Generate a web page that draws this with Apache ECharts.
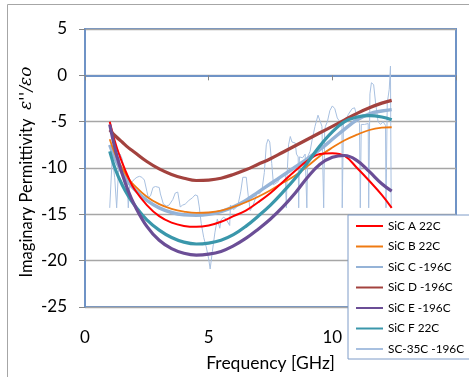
<!DOCTYPE html>
<html><head><meta charset="utf-8">
<script src="https://cdn.jsdelivr.net/npm/echarts@6/dist/echarts.min.js"></script>
<style>html,body{margin:0;padding:0;background:#fff}#c{width:469px;height:377px}</style>
</head><body><div id="c"></div>
<script>
const freq = [1.0,1.25,1.5,1.75,2.0,2.5,3.0,3.5,4.0,4.5,5.0,5.5,6.0,6.5,7.0,7.5,8.0,8.5,9.0,9.5,10.0,10.5,11.0,11.5,12.0,12.4];
const sicA = [-5.0,-7.5,-9.4,-11.0,-12.3,-14.0,-15.2,-15.9,-16.25,-16.35,-16.2,-15.8,-15.2,-14.6,-13.7,-12.7,-11.5,-10.3,-9.2,-8.5,-8.4,-8.7,-10.0,-11.4,-12.9,-14.3];
const sicB = [-6.9,-8.7,-10.0,-11.1,-11.9,-13.1,-13.9,-14.4,-14.7,-14.85,-14.8,-14.6,-14.2,-13.7,-13.1,-12.4,-11.6,-10.8,-9.8,-8.7,-7.8,-7.0,-6.4,-5.9,-5.65,-5.6];
const sicC = [-7.5,-9.2,-10.5,-11.5,-12.3,-13.5,-14.3,-14.8,-15.05,-15.1,-15.0,-14.7,-14.2,-13.5,-12.6,-11.7,-10.8,-9.9,-9.0,-8.0,-6.9,-5.8,-4.8,-4.15,-3.85,-3.7];
const sicD = [-5.9,-6.6,-7.2,-7.8,-8.3,-9.3,-10.1,-10.7,-11.1,-11.35,-11.3,-11.1,-10.7,-10.2,-9.6,-9.0,-8.3,-7.6,-6.9,-6.2,-5.5,-4.8,-4.1,-3.5,-3.0,-2.7];
const sicE = [-5.3,-8.3,-10.6,-12.5,-14.0,-16.3,-17.8,-18.7,-19.2,-19.4,-19.3,-19.0,-18.4,-17.6,-16.6,-15.5,-14.2,-12.7,-11.0,-9.6,-8.85,-8.65,-9.2,-10.4,-11.7,-12.5];
const sicF = [-8.2,-10.3,-11.8,-13.0,-14.0,-15.6,-16.7,-17.5,-18.0,-18.2,-18.1,-17.8,-17.2,-16.3,-15.2,-14.0,-12.6,-11.1,-9.4,-7.6,-6.1,-5.0,-4.5,-4.35,-4.5,-4.8];
const sc35Freq = [1.0,1.05,1.1,1.2,1.28,1.35,1.42,1.5,1.6,1.7,1.75,1.8,1.9,2.0,2.1,2.2,2.3,2.4,2.5,2.56,2.65,2.75,2.85,3.0,3.05,3.17,3.3,3.4,3.55,3.65,3.75,3.85,3.95,4.05,4.2,4.35,4.45,4.55,4.62,4.7,4.8,4.9,5.0,5.06,5.15,5.25,5.35,5.45,5.5,5.6,5.7,5.85,5.88,6.0,6.1,6.2,6.3,6.38,6.45,6.52,6.6,6.68,6.8,6.9,6.95,7.05,7.15,7.25,7.33,7.4,7.47,7.55,7.62,7.7,7.8,7.9,8.0,8.1,8.14,8.17,8.23,8.3,8.37,8.5,8.55,8.62,8.64,8.67,8.8,8.9,8.97,9.0,9.1,9.18,9.3,9.42,9.5,9.58,9.65,9.69,9.72,9.8,9.9,10.0,10.1,10.2,10.3,10.39,10.4,10.45,10.55,10.65,10.8,10.9,11.0,11.1,11.13,11.17,11.3,11.45,11.47,11.52,11.58,11.67,11.75,11.85,11.95,12.05,12.15,12.17,12.22,12.3,12.35,12.38];
const sc35 = [-14.3,-14.3,-8.9,-11.0,-14.3,-10.5,-8.5,-9.0,-10.5,-11.0,-14.3,-12.0,-11.5,-11.2,-11.0,-10.9,-11.0,-11.3,-12.5,-13.2,-13.0,-12.1,-12.0,-12.1,-12.8,-13.9,-14.1,-14.0,-13.4,-12.7,-12.6,-14.2,-14.0,-13.9,-13.5,-13.2,-12.9,-13.0,-14.2,-16.0,-17.5,-18.5,-19.8,-20.9,-19.0,-17.0,-15.5,-16.5,-15.6,-15.3,-15.5,-16.2,-14.0,-14.5,-14.3,-13.8,-12.5,-11.0,-10.8,-11.0,-13.0,-14.6,-14.0,-13.2,-12.7,-12.8,-12.5,-10.5,-7.5,-6.9,-7.2,-9.5,-11.8,-12.0,-11.5,-11.0,-10.8,-10.8,-14.3,-10.8,-7.5,-6.6,-7.2,-7.3,-8.5,-8.8,-14.3,-8.8,-8.9,-8.5,-14.3,-8.8,-8.2,-7.0,-5.5,-4.3,-4.3,-5.5,-14.3,-6.0,-5.5,-5.0,-3.8,-3.3,-3.6,-4.6,-5.0,-5.2,-14.3,-5.2,-4.8,-4.2,-3.6,-3.5,-4.5,-5.2,-14.3,-5.3,-5.3,-5.2,-14.3,-2.0,-0.8,-1.0,-3.0,-5.0,-5.3,-5.0,-5.4,-14.3,-3.0,-1.5,1.0,-14.3];
const names = ['SiC A 22C','SiC B 22C','SiC C -196C','SiC D -196C','SiC E -196C','SiC F 22C','SC-35C -196C'];
const xTicks = {min:0,max:15,interval:5};
const yTicks = {min:-25,max:5,interval:5};
const xTitle = 'Frequency [GHz]';
const yTitleText = 'Imaginary Permittivity  ';
const yTitleSymbol = 'ε\'\'/εo';

const pair = (xs, ys) => xs.map((x,i)=>[x, ys[i]]);
const chart = echarts.init(document.getElementById('c'), null, {renderer:'canvas'});
const mk = (name, ys, color, width, xs, smooth) => ({
  name, type:'line', data: pair(xs||freq, ys), symbol:'circle', showSymbol:false, smooth: smooth===undefined?0.4:smooth,
  lineStyle:{color, width}, itemStyle:{color}, z: 2
});
chart.setOption({
  animation:false,
  textStyle:{fontFamily:'Lato'},
  graphic:[
    {type:'rect', shape:{x:7.5,y:4.5,width:480,height:400}, style:{fill:'none', stroke:'#A6A6A6', lineWidth:1}, z:-1},
    {type:'text', x:27, y:172, rotation:Math.PI/2, z:5,
      style:{text:'{n|'+yTitleText+'}{i|'+yTitleSymbol+'}', align:'center', verticalAlign:'middle',
        rich:{n:{fontSize:16.5, fontFamily:'Lato', fill:'#000'}, i:{fontSize:17, fontFamily:'DejaVu Serif', fontStyle:'italic', fill:'#000'}}}}
  ],
  grid:{left:85, right:13, top:29, bottom:69, show:true, borderColor:'#6F93C6', borderWidth:2, backgroundColor:'transparent'},
  xAxis:{type:'value', min:xTicks.min, max:xTicks.max, interval:xTicks.interval,
    name:xTitle, nameLocation:'middle', nameGap:47,
    nameTextStyle:{fontSize:17.5, color:'#000', fontFamily:'Lato'},
    axisLine:{show:true, lineStyle:{color:'#6F93C6', width:2}},
    axisTick:{show:true, inside:false, length:5, lineStyle:{color:'#868686'}},
    axisLabel:{fontSize:17, color:'#000', margin:22, fontFamily:'Lato'},
    splitLine:{show:false}},
  yAxis:{type:'value', min:yTicks.min, max:yTicks.max, interval:yTicks.interval,
    axisLine:{show:true, lineStyle:{color:'#6F93C6', width:2}},
    axisTick:{show:true, inside:false, length:6, lineStyle:{color:'#868686'}},
    axisLabel:{fontSize:17, color:'#000', margin:18, fontFamily:'Lato'},
    splitLine:{show:true, lineStyle:{color:'#A6A6A6', width:1.3}}},
  legend:{orient:'vertical', left:348, top:215, padding:[5,6,4,7], itemGap:8.5, itemWidth:27, itemHeight:14,
    backgroundColor:'#fff', borderColor:'#7E9CC8', borderWidth:1, borderRadius:0,
    itemStyle:{opacity:0, color:'transparent', borderColor:'transparent', borderWidth:0},
    textStyle:{fontSize:11.8, color:'#000', fontFamily:'Lato'}, data:names, z:10},
  series:[
    mk(names[6], sc35, '#A8C0E0', 1, sc35Freq, false),
    mk(names[2], sicC, '#95B3D7', 3.5),
    mk(names[1], sicB, '#EF7A12', 1.8),
    mk(names[0], sicA, '#FF0000', 2),
    mk(names[3], sicD, '#A3423E', 3.2),
    mk(names[5], sicF, '#3A97AB', 3.2),
    mk(names[4], sicE, '#6B4E96', 3.2)
  ]
});
</script></body></html>
